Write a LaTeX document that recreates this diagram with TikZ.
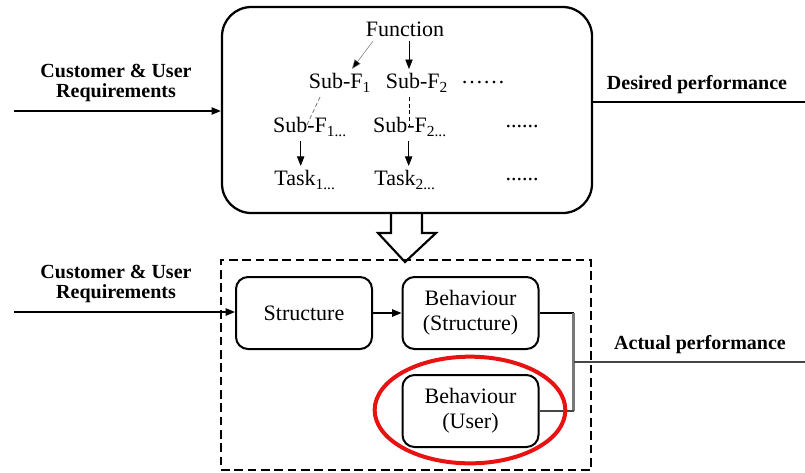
\documentclass[tikz,border=0pt]{standalone}
\usepackage{fontspec}
\setmainfont{Liberation Serif}
\usetikzlibrary{arrows.meta}
\definecolor{markred}{RGB}{232,18,18}
\definecolor{linkgray}{RGB}{120,120,120}
\definecolor{wiregray}{RGB}{70,70,70}

\begin{document}
\begin{tikzpicture}[x=0.75pt,y=-0.75pt,
    font=\fontsize{16.5}{18.5}\selectfont,
    lbl/.style={font=\bfseries\fontsize{15}{15}\selectfont, align=center},
    stage/.style={draw, line width=1.5pt, rounded corners=9pt, align=center,
                  minimum width=102pt, minimum height=54pt},
    tip/.style={-{Triangle[length=7pt,width=5.5pt]}}]
    \useasboundingbox (0,0) rectangle (805,472);

    % Function box
    \node[draw, line width=1.7pt, rounded corners=22pt,
          minimum width=277.5pt, minimum height=154.5pt] (fbox) at (407,110) {};
    \node (fun) at (405,29) {Function};
    \node (sf1) at (340,83) {Sub-F\textsubscript{1}};
    \node (sf2) at (417,83) {Sub-F\textsubscript{2}};
    \node (sfdots) at (483,83) {\textellipsis\textellipsis};
    \node (sf1x) at (310,127) {Sub-F\textsubscript{1...}};
    \node (sf2x) at (410,127) {Sub-F\textsubscript{2...}};
    \node (sfxdots) at (522,127) {......};
    \node (t1) at (305,180) {Task\textsubscript{1...}};
    \node (t2) at (405,180) {Task\textsubscript{2...}};
    \node (tdots) at (522,180) {......};

    % Decomposition links
    \draw[linkgray, -{Triangle[length=7pt,width=5.5pt,fill=black]}]
        ([xshift=-24pt]fun.south) -- ([xshift=9pt]sf1.north);
    \draw[tip] ([xshift=3pt]fun.south) -- ([xshift=3pt]fun.south |- sf2.north);
    \draw[linkgray, line width=0.6pt, dash pattern=on 3pt off 2pt]
        ([xshift=-15pt]sf1.south) -- ([xshift=-3pt]sf1x.center);
    \draw[dash pattern=on 3pt off 2pt] ([xshift=-6pt]sf2.south) -- ([xshift=-6pt]sf2.south |- sf2x.center);
    \draw[tip] ([xshift=-1pt]sf2x.south) -- ([xshift=-1pt]sf2x.south |- t2.north);
    \draw[tip] ([xshift=-7pt]sf1x.south) -- ([xshift=-7pt]sf1x.south |- t1.north);

    % Inputs and desired output
    \coordinate (in1) at (14,111);
    \coordinate (desend) at (805,102);
    \draw[line width=1.1pt, tip] (in1) -- (in1 -| fbox.west);
    \draw[line width=1.1pt] (fbox.east |- desend) -- (desend);
    \node[lbl] (req1) at (116,83) {Customer \& User\\Requirements};
    \node[lbl] (des) at (697,85) {Desired performance};

    % Hollow arrow down
    \draw[line width=1.6pt] (391,213) -- (391,233) -- (378,233) -- (405,262)
        -- (436,233) -- (422,233) -- (422,213);

    % Simulation box
    \node[draw, line width=2pt, dash pattern=on 6.5pt off 3.5pt,
          minimum width=277.5pt, minimum height=157.5pt] (sim) at (406,365) {};
    \node[stage] (struct) at (304,313) {Structure};
    \node[stage] (behs) at (470.5,313) {Behaviour\\(Structure)};
    \node[stage] (behu) at (470.5,411) {Behaviour\\(User)};

    \coordinate (in2) at (14,312);
    \coordinate (actend) at (805,362);
    \draw[line width=1.1pt, tip] (in2) -- (in2 -| struct.west);
    \draw[line width=1.1pt, tip] (struct) -- (behs);
    \node[lbl] (req2) at (116,284) {Customer \& User\\Requirements};

    % Actual performance
    \draw[line width=1.1pt] (behs.east) -- ++(34,0) coordinate (jt);
    \draw[linkgray, line width=1.8pt] (jt) -- (jt |- behu.east);
    \draw[wiregray, line width=0.8pt] (jt |- behu.east) -- (behu.east);
    \draw[wiregray, line width=1.3pt] (jt |- actend) -- (actend);
    \node[lbl] (act) at (700,345) {Actual performance};

    % Highlight
    \draw[markred, line width=3pt] (470,410) ellipse [x radius=71.5pt, y radius=40pt];
\end{tikzpicture}
\end{document}
